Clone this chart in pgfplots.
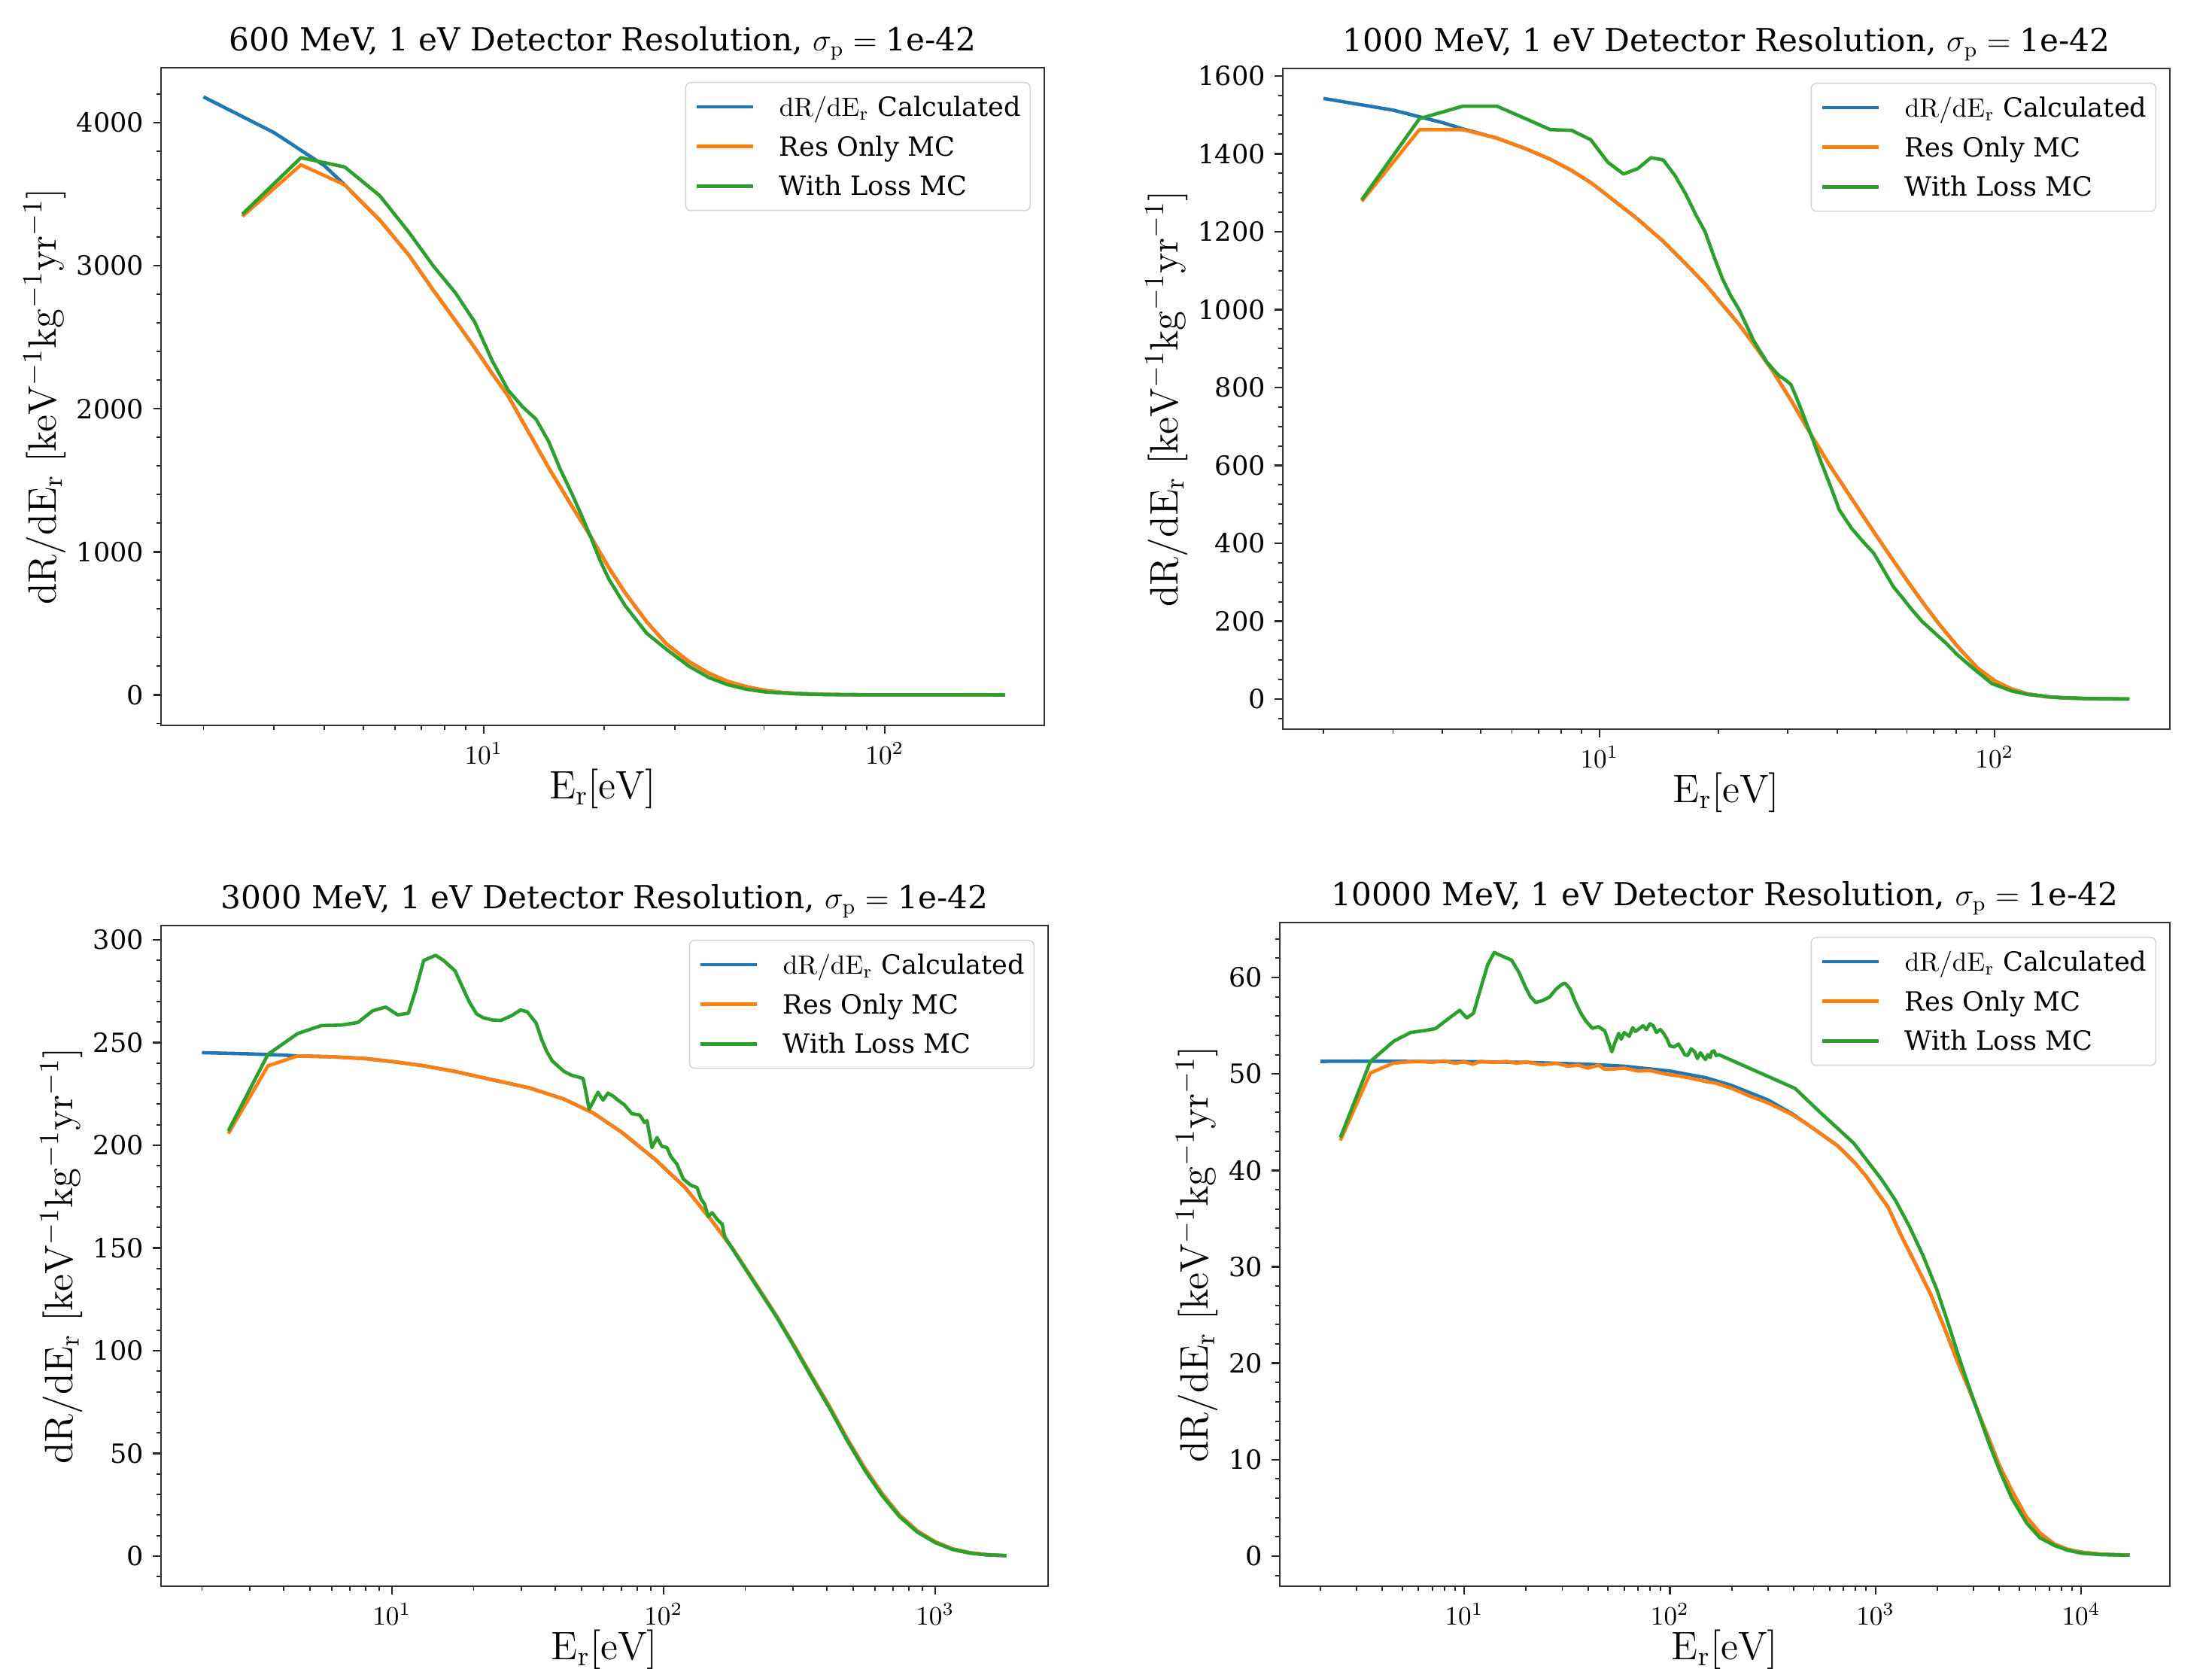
\RequirePackage{fix-cm}
\documentclass[border=0pt]{standalone}
\usepackage[no-math]{fontspec}
\setmainfont{DejaVu Serif}
\usepackage{pgfplots}
\pgfplotsset{compat=1.18}
\definecolor{tabblue}{RGB}{31,119,180}
\definecolor{taborange}{RGB}{255,127,14}
\definecolor{tabgreen}{RGB}{44,160,44}
\pgfplotsset{
  legend image code/.code={\draw[#1] (0cm,0cm) -- (0.75cm,0cm);},
  every axis plot/.append style={line width=1.3pt, line join=round},
  /pgf/number format/1000 sep={},
  scale only axis,
  tick pos=left, tick align=outside,
  major tick length=3pt, minor tick length=1.7pt,
  every tick/.append style={black!85, line width=0.7pt},
  every minor tick/.append style={line width=0.55pt},
  axis line style={black!80, line width=0.7pt},
  tick label style={font=\fontsize{10}{12}\selectfont},
  label style={font=\fontsize{15}{18}\selectfont},
  title style={font=\fontsize{12}{14.4}\selectfont, at={(0.5,1)}, anchor=base, yshift=0.3pt},
  yticklabel={\pgfmathprintnumber[assume math mode=true]{\tick}},
  scaled y ticks=false,
  xlabel={$\mathrm{E_r[eV]}$},
  ylabel={$\mathrm{dR/dE_r\ [keV^{-1}kg^{-1}yr^{-1}]}$},
  xlabel style={inner sep=0.5pt, yshift=2.2pt},
  ylabel style={inner sep=0.5pt},
  legend cell align=left,
  legend style={at={(1,1)}, anchor=north east, xshift=-0.18cm, yshift=-0.19cm,
    draw=black!18, rounded corners=2pt, fill=white,
    font=\fontsize{10}{12}\selectfont, inner xsep=0.12cm, inner ysep=4.7pt, row sep=6pt,
    nodes={inner sep=0pt, text height=8pt, text depth=1pt},
    /tikz/every odd column/.append style={column sep=0.33cm}},
}
\begin{document}
\begin{tikzpicture}
\useasboundingbox (0,0) rectangle (29.4cm,22.18cm);
% ---------------- 600 MeV ----------------
\begin{axis}[xmode=log, at={(2.14cm,12.54cm)}, anchor=south west, width=11.74cm, height=8.74cm,
  xmin=1.567, xmax=250, ymin=-213, ymax=4384,
  ytick={0,1000,2000,3000,4000}, minor ytick={-200,0,...,4200},
  title={600 MeV, 1 eV Detector Resolution, $\sigma_{\mathrm{p}}={}$1e-42}]
\addplot[tabblue] table {
2 4180
3 3930
4 3700
4.5 3565
5.5 3320
6.5 3075
7.5 2825
8.5 2615
9.5 2425
10.5 2245
11.5 2090
12.5 1910
13.5 1745
14.5 1590
16.5 1330
18.5 1105
20.5 890
22.5 715
25.5 510
28.5 358
32.5 232
36.5 150
40.5 95
45.5 55
50.5 30
55.5 17
60.5 10
70.5 3.5
85.5 1
100.5 0.3
130.5 0.1
160.5 0
199.5 0
};
\addlegendentry{$\mathrm{dR/dE_r}$ Calculated}
\addplot[taborange] table {
2.5 3345
3.5 3705
4.5 3565
5.5 3320
6.5 3075
7.5 2825
8.5 2615
9.5 2425
10.5 2245
11.5 2090
12.5 1910
13.5 1745
14.5 1590
16.5 1330
18.5 1105
20.5 890
22.5 715
25.5 510
28.5 358
32.5 232
36.5 150
40.5 95
45.5 55
50.5 30
55.5 17
60.5 10
70.5 3.5
85.5 1
100.5 0.3
130.5 0.1
160.5 0
199.5 0
};
\addlegendentry{Res Only MC}
\addplot[tabgreen] table {
2.5 3360
3.5 3755
4.5 3690
5.5 3490
6.5 3235
7.5 2995
8.5 2810
9.5 2605
10.5 2335
11.5 2130
12.5 2013
13.5 1927
14.5 1774
15.5 1580
16.5 1420
17.5 1260
18.5 1100
19.5 940
20.5 810
22.5 625
25.5 430
28.5 320
32.5 200
36.5 120
40.5 72
45.5 38
50.5 20
60.5 7
70.5 2.5
100.5 0.3
199.5 0
};
\addlegendentry{With Loss MC}
\end{axis}
% ---------------- 1000 MeV ----------------
\begin{axis}[xmode=log, at={(17.05cm,12.49cm)}, anchor=south west, width=11.79cm, height=8.78cm,
  xmin=1.578, xmax=278, ymin=-77, ymax=1619,
  ytick={0,200,...,1600}, minor ytick={-50,0,...,1600},
  title={1000 MeV, 1 eV Detector Resolution, $\sigma_{\mathrm{p}}={}$1e-42}]
\addplot[tabblue] table {
2 1542
3 1512
4 1480
4.5 1464
5.5 1440
6.5 1413
7.5 1386
8.5 1357
9.5 1326
10.5 1292
12.5 1232
14.5 1175
16.5 1118
18.5 1066
20.5 1012
22.5 963
24.5 913
27.5 841
30.5 768
34.5 675
38.5 596
42.5 530
46.5 470
50.5 416
55.5 355
60.5 300
66.5 242
72.5 192
80.5 136
90.5 80
100.5 46
110.5 26
120.5 14
135.5 6
150.5 3
180.5 0.8
219.5 0.3
};
\addlegendentry{$\mathrm{dR/dE_r}$ Calculated}
\addplot[taborange] table {
2.5 1278
3.5 1462
4.5 1462
5.5 1440
6.5 1413
7.5 1386
8.5 1357
9.5 1326
10.5 1292
12.5 1232
14.5 1175
16.5 1118
18.5 1066
20.5 1012
22.5 963
24.5 913
27.5 841
30.5 768
34.5 675
38.5 596
42.5 530
46.5 470
50.5 416
55.5 355
60.5 300
66.5 242
72.5 192
80.5 136
90.5 80
100.5 46
110.5 26
120.5 14
135.5 6
150.5 3
180.5 0.8
219.5 0.3
};
\addlegendentry{Res Only MC}
\addplot[tabgreen] table {
2.5 1282
3.5 1490
4.5 1522
5.5 1522
6.5 1490
7.5 1462
8.5 1460
9.5 1436
10.5 1378
11.5 1348
12.5 1362
13.5 1390
14.5 1384
15.5 1345
16.5 1298
17.5 1245
18.5 1200
19.5 1135
20.5 1078
21.5 1035
22.5 1002
23.5 962
24.5 922
25.5 893
26.5 866
27.5 847
28.5 830
29.5 820
30.5 808
31.5 775
32.5 740
33.5 705
34.5 672
36.5 605
38.5 545
40.5 485
43.5 438
46.5 404
49.5 374
52.5 330
55.5 288
58.5 260
61.5 232
65.5 200
69.5 176
75.5 143
80.5 114
88.5 78
98.5 40
110.5 21
121.5 12
140.5 5
170.5 1.5
219.5 0.3
};
\addlegendentry{With Loss MC}
\end{axis}
% ---------------- 3000 MeV ----------------
\begin{axis}[xmode=log, at={(2.14cm,1.10cm)}, anchor=south west, width=11.79cm, height=8.78cm,
  xmin=1.413, xmax=2606, ymin=-14.65, ymax=307,
  ytick={0,50,...,300}, minor ytick={-10,0,...,300},
  title={3000 MeV, 1 eV Detector Resolution, $\sigma_{\mathrm{p}}={}$1e-42}]
\addplot[tabblue] table {
2 245.1
3 244.5
4 243.9
4.5 243.5
6 243.1
8 242.2
10 240.8
13 238.8
17 236
24 231.6
32 228.0
43 222.5
55 215.8
70 206.5
94 192.7
120 179.5
150 163.6
180 149.6
220 132.0
262 116.5
300 103.4
350 88.0
410 72.5
473 57.5
550 43
638 30.5
740 20
860 12.3
1000 7
1160 3.5
1350 1.6
1550 0.7
1830 0.25
};
\addlegendentry{$\mathrm{dR/dE_r}$ Calculated}
\addplot[taborange] table {
2.5 205.7
3.5 238.7
4.5 243.5
6 243.1
8 242.2
10 240.8
13 238.8
17 236
24 231.6
32 228.0
43 222.5
55 215.8
70 206.5
94 192.7
120 179.5
150 163.6
180 149.6
220 132.0
262 116.5
300 103.4
350 88.0
410 72.5
473 57.5
550 43
638 30.5
740 20
860 12.3
1000 7
1160 3.5
1350 1.6
1550 0.7
1830 0.25
};
\addlegendentry{Res Only MC}
\addplot[tabgreen] table {
2.5 207
3.5 244.3
4.5 254.4
5.5 258.3
6.5 258.5
7.5 259.8
8.5 265.5
9.5 267.3
10.5 263.5
11.5 264.3
12.2 275
13.1 290
14.5 292.5
15.5 290
17.1 284.9
18.2 277
19.3 269.7
20.5 264
21.7 262.1
23.5 261
25.2 260.8
27.5 263
29.8 265.9
31.5 265
34 259.5
35.5 252
37.2 245.6
39 241
40.4 239.2
43 236
45.9 234.1
49 233.1
50.6 232.5
51.8 226
53.3 217.6
55 221
57.4 225.8
59.9 222
62.5 225.4
65.2 224
68 222
71.8 219.7
76.5 215.4
81.5 214.8
83 213.5
85.1 211.1
87 212
90.7 198.9
94.7 203.8
98.7 199.5
103 198.9
106.4 194.6
112 190.9
118.3 183.6
126 180.6
133 179.4
137.4 173.9
141.7 171.4
146.3 165.3
151 167.2
157.6 164
164.5 161.6
168 155.6
180 149.3
220 131.5
262 116
300 102.8
350 87.3
410 71.7
473 56.6
550 42
638 29.5
740 19.2
860 11.7
1000 6.6
1160 3.2
1350 1.4
1550 0.6
1830 0.2
};
\addlegendentry{With Loss MC}
\end{axis}
% ---------------- 10000 MeV ----------------
\begin{axis}[xmode=log, at={(17.01cm,1.10cm)}, anchor=south west, width=11.83cm, height=8.82cm,
  xmin=1.269, xmax=27000, ymin=-3.12, ymax=65.7,
  ytick={0,10,...,60}, minor ytick={-2,0,...,64},
  title={10000 MeV, 1 eV Detector Resolution, $\sigma_{\mathrm{p}}={}$1e-42}]
\addplot[tabblue] table {
2 51.3
3 51.32
5 51.3
10 51.28
20 51.2
40 51.0
60 50.8
100 50.3
150 49.6
200 48.8
300 47.3
391 45.9
450 45.0
533 43.9
650 42.6
785 40.9
900 39.4
1000 38.0
1150 36.2
1350 33.0
1600 29.9
1850 27.2
2150 23.8
2500 20.2
2850 17.3
3200 14.6
3600 11.9
4000 9.4
4600 6.8
5400 4.1
6300 2.4
7400 1.25
8600 0.7
10100 0.4
12500 0.2
17200 0.1
};
\addlegendentry{$\mathrm{dR/dE_r}$ Calculated}
\addplot[taborange] table {
2.5 43.1
3.5 50.1
4.5 51.1
5 51.2
6 51.3
7 51.2
8 51.35
9 51.1
10 51.25
11 51.0
12 51.3
14 51.2
16 51.3
18 51.1
20 51.25
24 50.95
28 51.1
32 50.8
36 50.9
40 50.6
45 50.9
48 50.5
52 50.5
60 50.6
70 50.3
80 50.35
97 49.95
110 49.8
130 49.5
150 49.2
167 49.05
200 48.5
245 47.7
300 47.0
391 45.8
450 45.0
533 43.9
650 42.6
785 40.9
900 39.4
1000 38.0
1150 36.2
1350 33.0
1600 29.9
1850 27.2
2150 23.8
2500 20.2
2850 17.3
3200 14.6
3600 11.9
4000 9.4
4600 6.8
5400 4.1
6300 2.4
7400 1.25
8600 0.7
10100 0.4
12500 0.2
17200 0.1
};
\addlegendentry{Res Only MC}
\addplot[tabgreen] table {
2.5 43.4
3.5 51.3
4.55 53.4
5.5 54.3
6.46 54.5
7.25 54.7
8.47 55.8
9.5 56.6
10.3 55.8
11.1 56.3
12 58.8
13 61.3
14 62.6
15 62.3
17 61.8
18.5 60.5
19.8 59.05
21 58
22.3 57.4
24 57.6
26 57.97
28 58.8
29.9 59.3
31 59.4
32.8 58.8
34.5 57.6
36.8 56.35
39 55.5
42 54.73
45 54.9
48.3 54.45
50 53.5
52.2 52.3
54 53.2
56.4 54.2
58 53.6
60 54.3
63.4 53.9
66 54.8
68 54.4
71.1 54.7
74 55.0
77 54.6
80 55.2
83 55.0
86 54.3
90 54.6
93.3 54.2
97 53.6
100 52.9
105 52.8
110 53.1
114 52.6
118 52.0
122 51.9
127 52.6
132 52.3
136 51.6
141 52.2
145 51.8
149 51.5
153 52.0
157 51.7
160 52.3
164 52.4
168 51.9
173 52.0
406 48.5
533 46.1
785 42.8
1071 39.05
1250 36.9
1460 34.2
1700 31.2
1990 27.6
2250 24.2
2511 21.0
2800 18.0
3165 14.8
3550 11.8
3993 9.0
4600 6.0
5445 3.4
6300 1.9
7420 1.1
8600 0.6
10100 0.3
12500 0.15
17200 0.1
};
\addlegendentry{With Loss MC}
\end{axis}
\end{tikzpicture}
\end{document}
